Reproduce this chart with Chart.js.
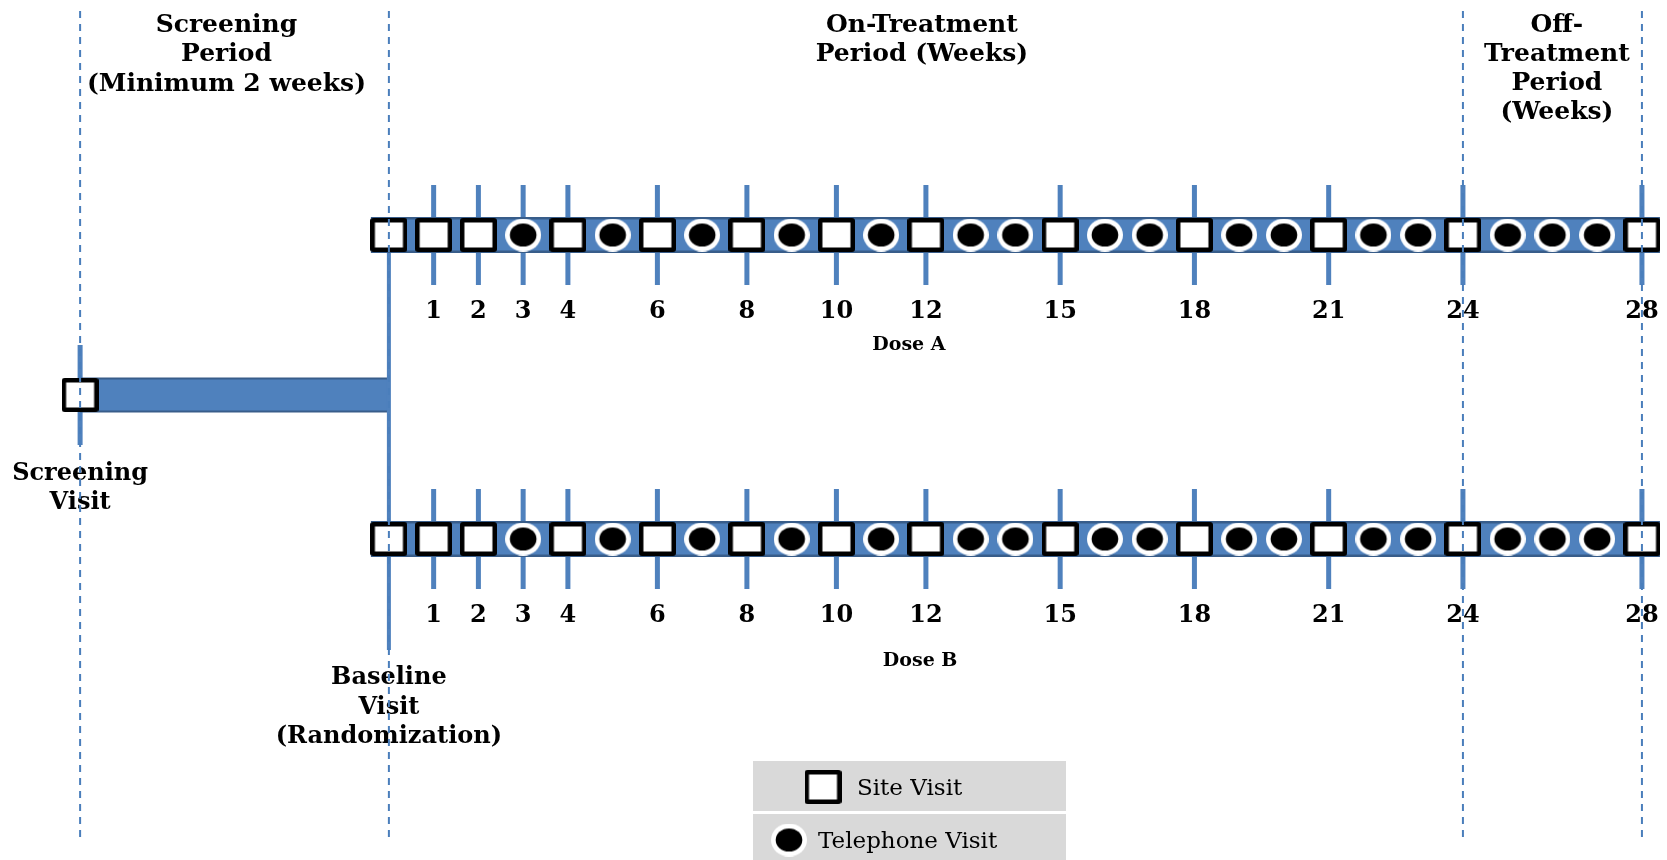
<!DOCTYPE html>
<html>
<head>
<meta charset="utf-8">
<title>Study design</title>
<script src="https://cdn.jsdelivr.net/npm/chart.js@4.4.1/dist/chart.umd.min.js"></script>
<style>
  html, body { margin: 0; padding: 0; background: #fff; }
  #wrap { width: 1667px; height: 860px; position: relative; }
</style>
</head>
<body>
<div id="wrap"><canvas id="studyChart"></canvas></div>
<script>
// visit schedule, in weeks from baseline (randomization)
var siteWeeks = [0, 1, 2, 4, 6, 8, 10, 12, 15, 18, 21, 24, 28];
var phoneWeeks = [3, 5, 7, 9, 11, 13, 14, 16, 17, 19, 20, 22, 23, 25, 26, 27];
var tickWeeks = [1, 2, 3, 4, 6, 8, 10, 12, 15, 18, 21, 24, 28];
var tickLabels = ["1", "2", "3", "4", "6", "8", "10", "12", "15", "18", "21", "24", "28"];
var screeningWeek = -6.9;          // where the screening visit is drawn
var periodEdges = [screeningWeek, 0, 24, 28];
var doseNames = ["Dose A", "Dose B"];
var periodTitles = [
  ["Screening", "Period", "(Minimum 2 weeks)"],
  ["On-Treatment", "Period (Weeks)"],
  ["Off-", "Treatment", "Period", "(Weeks)"]
];

// layout (y runs top to bottom in canvas units)
var rowA = 235, rowB = 539, rowS = 395;
var tickHalf = 50;
var blue = '#4F81BD', darkBlue = '#385D8A', dashBlue = '#4A7EBB';
var serif = '"DejaVu Serif", "Liberation Serif", serif';

function roundRect(g, x, y, w, h, r) {
  g.beginPath();
  g.moveTo(x + r, y);
  g.arcTo(x + w, y, x + w, y + h, r);
  g.arcTo(x + w, y + h, x, y + h, r);
  g.arcTo(x, y + h, x, y, r);
  g.arcTo(x, y, x + w, y, r);
  g.closePath();
}

function siteMarker() {
  var c = document.createElement('canvas');
  c.width = 37; c.height = 34;
  var g = c.getContext('2d');
  g.fillStyle = '#000';
  roundRect(g, 0, 0, 37, 34, 3);
  g.fill();
  g.fillStyle = '#fff';
  g.fillRect(4.5, 4.5, 28, 25);
  return c;
}

function phoneMarker() {
  var c = document.createElement('canvas');
  c.width = 36; c.height = 33;
  var g = c.getContext('2d');
  g.fillStyle = '#fff';
  g.beginPath(); g.ellipse(18, 16.5, 18, 16.5, 0, 0, Math.PI * 2); g.fill();
  g.fillStyle = '#000';
  g.beginPath(); g.ellipse(18, 16.5, 13.3, 11.6, 0, 0, Math.PI * 2); g.fill();
  return c;
}

var siteImg = siteMarker();
var phoneImg = phoneMarker();

function pointsAt(list, y) {
  return list.map(function (w) { return { x: w, y: y }; });
}

function tickSegments(list, y) {
  var out = [];
  list.forEach(function (w) {
    out.push({ x: w, y: y - tickHalf }, { x: w, y: y + tickHalf }, { x: w, y: null });
  });
  return out;
}

var datasets = [];

// period boundaries (dashed, on top of everything)
datasets.push({
  type: 'line', order: 0,
  data: (function () {
    var out = [];
    periodEdges.forEach(function (w) {
      out.push({ x: w, y: 11 }, { x: w, y: 840 }, { x: w, y: null });
    });
    return out;
  })(),
  borderColor: dashBlue, borderWidth: 2, borderDash: [7, 6], pointRadius: 0, spanGaps: false
});

[rowA, rowB].forEach(function (row) {
  datasets.push({ type: 'scatter', order: 1, data: pointsAt(siteWeeks, row),
    pointStyle: siteImg, pointRadius: 18 });
  datasets.push({ type: 'scatter', order: 2, data: pointsAt(phoneWeeks, row),
    pointStyle: phoneImg, pointRadius: 18 });
  datasets.push({ type: 'line', order: 3, data: [{ x: 0, y: row }, { x: 28, y: row }],
    borderColor: blue, borderWidth: 31, borderCapStyle: 'square', pointRadius: 0 });
  datasets.push({ type: 'line', order: 4, data: [{ x: 0, y: row }, { x: 28, y: row }],
    borderColor: darkBlue, borderWidth: 36, borderCapStyle: 'square', pointRadius: 0 });
  datasets.push({ type: 'line', order: 7, data: tickSegments(tickWeeks, row),
    borderColor: blue, borderWidth: 5, borderCapStyle: 'butt', pointRadius: 0, spanGaps: false });
});

// screening leg
datasets.push({ type: 'scatter', order: 1, data: [{ x: screeningWeek, y: rowS }],
  pointStyle: siteImg, pointRadius: 18 });
datasets.push({ type: 'line', order: 5, data: [{ x: 0, y: rowA }, { x: 0, y: 650 }],
  borderColor: blue, borderWidth: 4, pointRadius: 0 });
datasets.push({ type: 'line', order: 6, data: [{ x: screeningWeek, y: rowS }, { x: 0, y: rowS }],
  borderColor: blue, borderWidth: 31, borderCapStyle: 'butt', pointRadius: 0 });
datasets.push({ type: 'line', order: 6.5, data: [{ x: screeningWeek, y: rowS }, { x: 0, y: rowS }],
  borderColor: darkBlue, borderWidth: 35, borderCapStyle: 'butt', pointRadius: 0 });
datasets.push({ type: 'line', order: 7, data: tickSegments([screeningWeek], rowS),
  borderColor: blue, borderWidth: 5, borderCapStyle: 'butt', pointRadius: 0, spanGaps: false });

var textPlugin = {
  id: 'studyText',
  beforeDatasetsDraw: function (chart) {
    var ctx = chart.ctx, sx = chart.scales.x, sy = chart.scales.y;
    function px(w) { return sx.getPixelForValue(w); }
    function py(v) { return sy.getPixelForValue(v); }
    function lines(list, w, firstY, step, font) {
      ctx.font = font;
      list.forEach(function (t, i) { ctx.fillText(t, px(w), py(firstY + i * step)); });
    }
    ctx.save();
    ctx.fillStyle = '#000';
    ctx.textAlign = 'center';
    ctx.textBaseline = 'alphabetic';

    var head = 'bold 25px ' + serif;
    lines(periodTitles[0], -3.63, 32, 29.3, head);
    lines(periodTitles[1], 11.91, 32, 29.3, head);
    lines(periodTitles[2], 26.1, 32, 29.1, head);

    ctx.font = 'bold 24px ' + serif;
    [rowA, rowB].forEach(function (row) {
      tickWeeks.forEach(function (w, i) {
        ctx.fillText(tickLabels[i], px(w), py(row + 83));
      });
    });

    ctx.font = 'bold 19px ' + serif;
    ctx.fillText(doseNames[0], px(11.62), py(350));
    ctx.fillText(doseNames[1], px(11.87), py(666));

    var bold = 'bold 24px ' + serif;
    lines(["Screening", "Visit"], screeningWeek, 480, 28.5, bold);
    lines(["Baseline", "Visit", "(Randomization)"], 0, 684, 29.5, bold);

    // legend
    ctx.fillStyle = '#D9D9D9';
    ctx.fillRect(753, 761, 313, 50);
    ctx.fillRect(753, 814, 313, 46);
    ctx.drawImage(siteImg, 823 - 18.5, 787 - 17);
    ctx.drawImage(phoneImg, 789 - 18, 840 - 16.5);
    ctx.fillStyle = '#000';
    ctx.textAlign = 'left';
    ctx.font = '23px ' + serif;
    ctx.fillText('Site Visit', 857, 795);
    ctx.fillText('Telephone Visit', 818, 848);
    ctx.restore();
  }
};

new Chart(document.getElementById('studyChart'), {
  type: 'scatter',
  data: { datasets: datasets },
  options: {
    responsive: true,
    maintainAspectRatio: false,
    animation: false,
    events: [],
    layout: { padding: 0, autoPadding: false },
    plugins: { legend: { display: false }, tooltip: { enabled: false } },
    scales: {
      x: { type: 'linear', min: -8.69, max: 28.56, display: false },
      y: { type: 'linear', min: 0, max: 860, reverse: true, display: false }
    }
  },
  plugins: [textPlugin]
});
</script>
</body>
</html>
